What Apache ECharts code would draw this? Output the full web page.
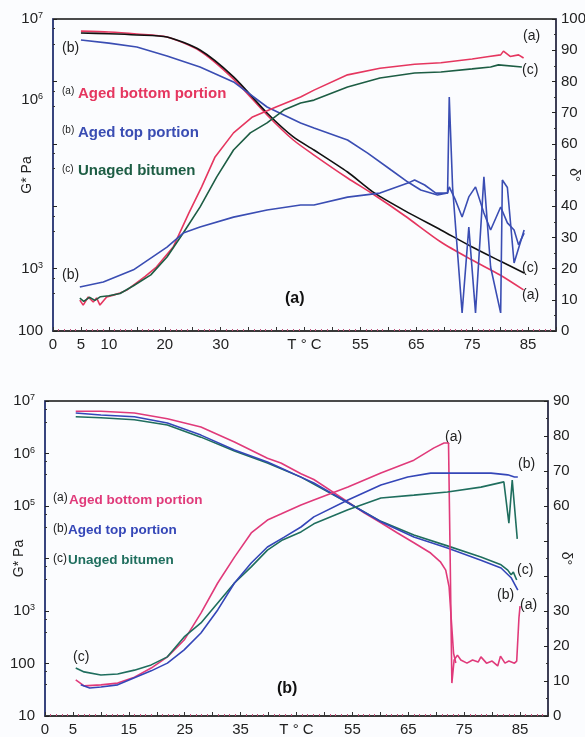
<!DOCTYPE html>
<html lang="en">
<head>
<meta charset="UTF-8">
<title>G* and phase angle vs temperature</title>
<script src="https://cdn.jsdelivr.net/npm/echarts@6/dist/echarts.min.js"></script>
<style>
  body { margin: 0; background: #fbfcfe; }
  #chart { width: 585px; height: 737px; }
</style>
</head>
<body>
<div id="chart"></div>
<script>
// ---- panel (a): G* (Pa) ----
var topTa_G = [5, 10, 15, 20.4, 26.3, 32.3, 38.3, 43, 46.7, 52.7, 57.5, 63, 69.4, 75, 80, 84.2];
var topGa   = [6.4e6, 6.2e6, 5.75e6, 5.15e6, 3.07e6, 1.09e6, 2.9e5, 1.15e5, 6.6e4, 2.83e4, 1.51e4, 6.97e3, 2.67e3, 1.37e3, 790, 455];
var topTb_G = [5, 10, 15, 20.4, 26.3, 32.3, 38.3, 44.3, 46.7, 52.7, 56.3, 60.5, 63.5, 65.8, 68.8, 70.6, 70.9, 72, 73.2, 74.4, 75.6, 77.1, 78.3, 80.1, 81.3, 82.5, 83.3, 84.3];
var topGb   = [4.6e6, 4.1e6, 3.56e6, 2.55e6, 1.7e6, 9.8e5, 3.89e5, 2.15e5, 1.79e5, 1.15e5, 7.1e4, 3.8e4, 2.44e4, 1.82e4, 1.51e4, 1.63e4, 2.04e4, 1.26e4, 6.7e3, 1.41e4, 2.04e4, 7.8e3, 4.16e3, 9.7e3, 5.4e3, 4.16e3, 2.4e3, 3.7e3];
var topTc_G = [5, 10, 15, 20.4, 26.3, 32.3, 38.3, 43, 46.7, 52.7, 57.5, 63, 69.4, 75, 80, 84.3];
var topGc   = [5.97e6, 5.8e6, 5.55e6, 5.15e6, 3.18e6, 1.18e6, 3.12e5, 1.29e5, 7.96e4, 3.53e4, 1.63e4, 8.4e3, 4.16e3, 2.22e3, 1.32e3, 850];

// ---- panel (a): phase angle (deg) ----
var topTa_d = [4.8, 5.4, 6.3, 7.2, 7.8, 8.4, 9.6, 10.8, 12, 13.2, 14.4, 16.5, 18.5, 21.5, 24.3, 26.6, 29, 32.3, 35.7, 39.9, 44.3, 46.7, 52.7, 58.5, 64.7, 69.4, 75, 78, 80.1, 80.6, 81.8, 83.3, 84.2];
var topDa   = [9.9, 8.3, 10.9, 9.3, 10.6, 8.3, 10.9, 11.5, 12.2, 13.1, 14.7, 17.5, 20.5, 26.9, 37.8, 46.2, 55.8, 63.5, 68.6, 71.8, 75, 77.2, 82.1, 84.2, 85.5, 86, 87.2, 88, 88.5, 89.7, 88, 88.5, 87.5];
var topTb_d = [4.8, 9, 14.4, 20.4, 23.3, 26.3, 32.3, 38.3, 44.3, 46.7, 52.7, 58.5, 63.5, 64.7, 66.5, 68.5, 70.6, 70.9, 71.5, 73.2, 74.4, 75.6, 77.1, 78.3, 80.1, 80.4, 81.3, 82.5, 84.3];
var topDb   = [14.1, 15.7, 19.6, 26.9, 31.4, 33.3, 36.5, 38.8, 40.4, 40.4, 42.9, 44.2, 47.4, 48.4, 46.8, 44.2, 44.2, 75, 46, 5.8, 33.3, 5.8, 49.4, 20.5, 5.8, 48.4, 46, 21.8, 32.4];
var topTc_d = [4.8, 5.5, 6.5, 7.5, 8.5, 10, 12, 14.4, 17.5, 20.4, 23.3, 26.3, 29.3, 32.3, 35.3, 38.3, 41.3, 44.3, 46.7, 52.7, 58.5, 64.7, 69.4, 75, 78.3, 79.7, 83.9];
var topDc   = [10.5, 9.5, 10.8, 9.8, 11, 11.3, 12, 14.5, 18, 23.7, 31.4, 39.7, 49.4, 58, 63.5, 66.7, 70.8, 73.1, 74, 78.2, 81.1, 82.7, 83, 84, 84.6, 85.3, 84.6];

// ---- panel (b): G* (Pa) ----
var botTa_G = [5.5, 10, 16, 21.9, 27.9, 33.9, 39.8, 42.2, 45.8, 48.1, 54.2, 57.1, 60.1, 63, 66, 69, 70.8, 71.7, 72.3, 72.7, 73.1, 73.5];
var botGa   = [6.4e6, 6.4e6, 5.9e6, 4.6e6, 3.2e6, 1.66e6, 8.1e5, 6.6e5, 4.1e5, 3.2e5, 1.2e5, 7.4e4, 4.8e4, 3.1e4, 2.0e4, 1.27e4, 8.5e3, 6.0e3, 2.9e3, 670, 158, 102];
var botTb_G = [5.5, 10, 16, 21.9, 27.9, 33.9, 39.8, 42.2, 45.8, 48.1, 54.2, 60.1, 66, 72, 78, 81.6, 83.4, 84.6];
var botGb   = [5.9e6, 5.4e6, 5.0e6, 3.8e6, 2.24e6, 1.17e6, 6.9e5, 5.3e5, 3.55e5, 2.75e5, 1.15e5, 5.0e4, 2.57e4, 1.58e4, 9.3e3, 6.6e3, 4.3e3, 2.5e3];
var botTc_G = [5.5, 10, 16, 21.9, 27.9, 33.9, 39.8, 45.8, 54.2, 60.1, 66, 72, 78, 81.6, 82.8, 83.4, 83.8, 84.4];
var botGc   = [5.0e6, 4.8e6, 4.4e6, 3.5e6, 2.05e6, 1.12e6, 6.6e5, 3.55e5, 1.15e5, 5.1e4, 2.8e4, 1.74e4, 1.07e4, 7.6e3, 6.0e3, 4.9e3, 5.5e3, 3.9e3];

// ---- panel (b): phase angle (deg) ----
var botTa_d = [5.5, 7, 10, 13, 16, 19, 21.9, 24.9, 27.9, 30.9, 33.9, 36.9, 39.8, 42.2, 45.8, 48.1, 54.2, 60.1, 66, 69.6, 71.4, 72.2, 72.5, 72.8, 73.2, 73.8, 74.4, 75.5, 76.5, 77.5, 78, 79, 80, 81, 81.5, 82.3, 83, 84, 84.4, 84.8, 85];
var botDa   = [10.3, 8.6, 8.9, 9.4, 11.1, 13.7, 16.9, 21.7, 29.4, 38, 45.4, 52.3, 56, 57.7, 60.3, 61.7, 65.4, 69.4, 73.1, 76.6, 78, 78, 44.6, 9.4, 16, 17.4, 16, 15.1, 16, 15.4, 16.9, 15.1, 15.7, 14.3, 17.1, 15.1, 15.7, 15.1, 15.7, 28, 31.4];
var botTb_d = [6.4, 8, 10, 13, 16, 19, 21.9, 24.9, 27.9, 30.9, 33.9, 36.9, 39.8, 42.8, 45.8, 48.1, 54.2, 60.1, 64.9, 69, 75, 79.8, 82.8, 84, 84.6];
var botDb   = [8.9, 8.0, 8.3, 8.9, 10.9, 12.9, 15.1, 18.9, 23.7, 30.3, 38, 43.7, 48.3, 51.1, 54, 56.9, 61.7, 66, 68.3, 69.4, 69.4, 69.4, 68.9, 68.3, 68.3];
var botTc_d = [5.5, 7, 10, 13, 16, 19, 21.9, 24.9, 27.9, 30.9, 33.9, 36.9, 39.8, 42.5, 45.8, 48.1, 54.2, 60.1, 66, 72, 78, 82.1, 83, 83.6, 84.5];
var botDc   = [13.7, 12.6, 11.7, 12, 13.1, 14.6, 16.9, 22.6, 26.6, 32.3, 38, 42.6, 47.4, 50.3, 52.6, 54.9, 58.9, 62.3, 63.1, 64, 65.4, 66.9, 55.1, 67.4, 50.6];

// tick labels
var topXLabels = {0: '0', 5: '5', 10: '10', 20: '20', 30: '30', 45: 'T ° C', 55: '55', 65: '65', 75: '75', 85: '85'};
var botXLabels = {0: '0', 5: '5', 15: '15', 25: '25', 35: '35', 45: 'T ° C', 55: '55', 65: '65', 75: '75', 85: '85'};
var topGLabels = [7, 6, 3, 2];
var botGLabels = [7, 6, 5, 3, 2, 1];
var topDHidden = [50];
var botDHidden = [40, 50];

var FONT = '"Liberation Sans", Arial, sans-serif';
var RED1 = '#e5365f', BLUE1 = '#3a4db3', BLACK1 = '#111111', GREEN1 = '#1d5d44';
var RED2 = '#e03a7a', BLUE2 = '#3446b8', GREEN2 = '#1f6e5e';

function zip(xs, ys) {
    var out = [];
    for (var i = 0; i < xs.length; i++) out.push([xs[i], ys[i]]);
    return out;
}

function logLabel(shown, shifted) {
    return function (v) {
        var e = Math.round(Math.log10(v));
        if (shown.indexOf(e) < 0) return '';
        if (e <= 2) return '{b|' + Math.round(v) + '}';
        if (shifted && e === shifted) return '{b2|10}{s2|' + e + '}';
        return '{b|10}{s|' + e + '}';
    };
}
var richSup = {
    b: {fontSize: 15, color: '#222', fontFamily: FONT},
    s: {fontSize: 9, color: '#222', fontFamily: FONT, verticalAlign: 'top'},
    b2: {fontSize: 15, color: '#222', fontFamily: FONT, padding: [36, 0, 0, 0]},
    s2: {fontSize: 9, color: '#222', fontFamily: FONT, verticalAlign: 'top', padding: [36, 0, 0, 0]}
};

function xAxisFor(grid, labels) {
    return {
        gridIndex: grid, type: 'value', min: 0, max: 90, interval: 5,
        axisLine: {lineStyle: {color: '#333', width: 1.5}},
        axisTick: {show: true, inside: true, length: 4, lineStyle: {color: '#333'}},
        minorTick: {show: true, splitNumber: 5, length: 2, lineStyle: {color: '#c0507a'}},
        splitLine: {show: false},
        axisLabel: {
            margin: 6, color: '#222', fontSize: 15, fontFamily: FONT,
            formatter: function (v) { return labels[v] !== undefined ? labels[v] : ''; }
        }
    };
}
function gAxisFor(grid, min, shown, shifted, gap) {
    return {
        gridIndex: grid, type: 'log', logBase: 10, min: min, max: 1e7, position: 'left',
        name: 'G* Pa', nameLocation: 'middle', nameGap: gap, nameMoveOverlap: false,
        nameTextStyle: {fontSize: 14, color: '#222', fontFamily: FONT},
        axisLine: {show: true, lineStyle: {color: '#33428f', width: 1.5}},
        axisTick: {show: true, inside: true, length: 4, lineStyle: {color: '#222'}},
        minorTick: {show: true, splitNumber: 3, length: 2, lineStyle: {color: '#333'}},
        splitLine: {show: false},
        axisLabel: {margin: 10, fontSize: 15, color: '#222', formatter: logLabel(shown, shifted), rich: richSup}
    };
}
function dAxisFor(grid, max, hidden) {
    return {
        gridIndex: grid, type: 'value', min: 0, max: max, interval: 10, position: 'right',
        name: 'δ°', nameLocation: 'middle', nameGap: 11, nameRotate: -90, nameMoveOverlap: false,
        nameTextStyle: {fontSize: 14, color: '#222', fontFamily: FONT},
        axisLine: {show: true, lineStyle: {color: '#3a3a5a', width: 1.5}},
        axisTick: {show: true, inside: true, length: 4, lineStyle: {color: '#222'}},
        minorTick: {show: true, splitNumber: 2, length: 2, lineStyle: {color: '#333'}},
        splitLine: {show: false},
        axisLabel: {
            margin: 5, color: '#222', fontSize: 15, fontFamily: FONT,
            formatter: function (v) { return hidden.indexOf(v) >= 0 ? '' : String(v); }
        }
    };
}
function line(name, xi, yi, data, color, smooth) {
    return {
        name: name, type: 'line', xAxisIndex: xi, yAxisIndex: yi, data: data,
        showSymbol: false, smooth: smooth ? 0.25 : false, animation: false,
        lineStyle: {color: color, width: 1.6}, itemStyle: {color: color}
    };
}
function txt(x, y, s, size, color, bold) {
    return {
        type: 'text', left: x, top: y - size * 0.6,
        style: {text: s, fontSize: size, fontFamily: FONT, fill: color || '#222',
                fontWeight: bold ? 'bold' : 'normal'}
    };
}

var chart = echarts.init(document.getElementById('chart'));
var option = {
    backgroundColor: '#fbfcfe',
    animation: false,
    grid: [
        {left: 53, top: 19, width: 503, height: 312, show: true, borderColor: '#111', borderWidth: 1.5,
         containLabel: false, outerBoundsMode: 'none'},
        {left: 45, top: 401, width: 503, height: 315, show: true, borderColor: '#111', borderWidth: 1.5,
         containLabel: false, outerBoundsMode: 'none'}
    ],
    xAxis: [xAxisFor(0, topXLabels), xAxisFor(1, botXLabels)],
    yAxis: [
        gAxisFor(0, 100, topGLabels, 6, 19),
        dAxisFor(0, 100, topDHidden),
        gAxisFor(1, 10, botGLabels, null, 19),
        dAxisFor(1, 90, botDHidden)
    ],
    series: [
        line('G* aged bottom (a)', 0, 0, zip(topTa_G, topGa), RED1, true),
        line('G* unaged (c)', 0, 0, zip(topTc_G, topGc), BLACK1, true),
        line('G* aged top (b)', 0, 0, zip(topTb_G, topGb), BLUE1, false),
        line('δ aged bottom (a)', 0, 1, zip(topTa_d, topDa), RED1, false),
        line('δ unaged (c)', 0, 1, zip(topTc_d, topDc), GREEN1, false),
        line('δ aged top (b)', 0, 1, zip(topTb_d, topDb), BLUE1, false),
        line('G* aged bottom (a) b', 1, 2, zip(botTa_G, botGa), RED2, false),
        line('G* unaged (c) b', 1, 2, zip(botTc_G, botGc), GREEN2, false),
        line('G* aged top (b) b', 1, 2, zip(botTb_G, botGb), BLUE2, false),
        line('δ aged bottom (a) b', 1, 3, zip(botTa_d, botDa), RED2, false),
        line('δ unaged (c) b', 1, 3, zip(botTc_d, botDc), GREEN2, false),
        line('δ aged top (b) b', 1, 3, zip(botTb_d, botDb), BLUE2, false)
    ],
    graphic: [
        // panel (a) key
        txt(62, 92, '(a)', 10, '#222'), txt(78, 95, 'Aged bottom portion', 15, RED1, true),
        txt(62, 131, '(b)', 10, '#222'), txt(78, 134, 'Aged top portion', 15, BLUE1, true),
        txt(62, 170, '(c)', 10, '#222'), txt(78, 172, 'Unaged bitumen', 15, GREEN1, true),
        // panel (a) curve tags
        txt(62, 50, '(b)', 14), txt(62, 277, '(b)', 14),
        txt(523, 38, '(a)', 14), txt(522, 72, '(c)', 14),
        txt(522, 270, '(c)', 14), txt(522, 297, '(a)', 14),
        txt(285, 300, '(a)', 16, '#111', true),
        // panel (b) key
        txt(53, 499, '(a)', 12, '#222'), txt(69, 501, 'Aged bottom portion', 13.5, RED2, true),
        txt(53, 530, '(b)', 12, '#222'), txt(68, 531, 'Aged top portion', 13.5, BLUE2, true),
        txt(53, 560, '(c)', 12, '#222'), txt(68, 561, 'Unaged bitumen', 13.5, GREEN2, true),
        // panel (b) curve tags
        txt(445, 439, '(a)', 14), txt(518, 466, '(b)', 14),
        txt(517, 572, '(c)', 14), txt(497, 597, '(b)', 14),
        txt(520, 607, '(a)', 14), txt(73, 659, '(c)', 14),
        txt(277, 690, '(b)', 16, '#111', true)
    ]
};
chart.setOption(option);
</script>
</body>
</html>
